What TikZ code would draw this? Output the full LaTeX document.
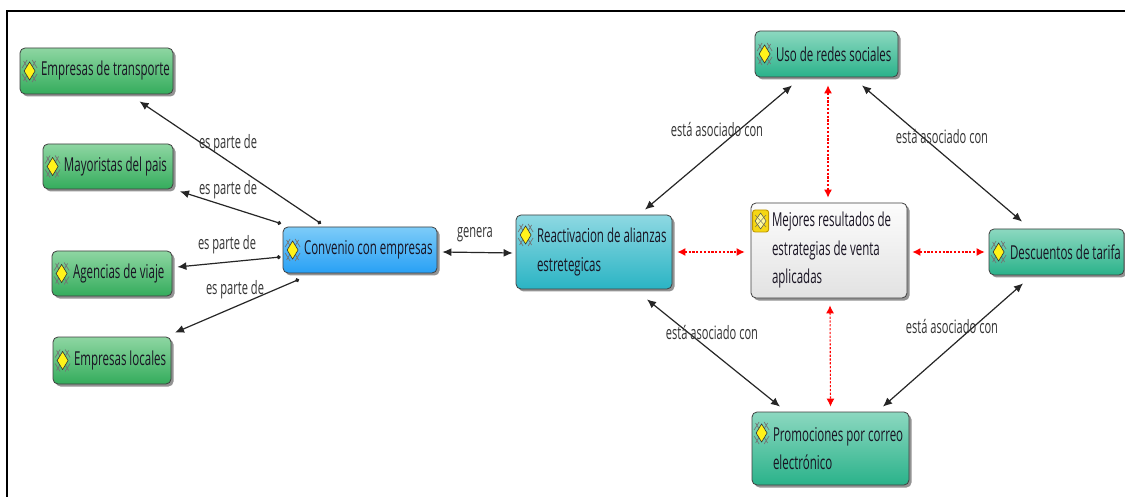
\documentclass[tikz,border=0pt]{standalone}
\usepackage{fontspec}
\setmainfont{Open Sans}[FakeStretch=0.6]
\usetikzlibrary{arrows.meta,calc,shadows}
\definecolor{gtop}{RGB}{142,214,162}
\definecolor{gbot}{RGB}{52,172,92}
\definecolor{ttop}{RGB}{140,216,192}
\definecolor{tbot}{RGB}{42,178,138}
\definecolor{btop}{RGB}{125,204,248}
\definecolor{bbot}{RGB}{40,160,245}
\definecolor{ctop}{RGB}{142,216,226}
\definecolor{cbot}{RGB}{42,180,196}
\definecolor{wtop}{RGB}{252,252,252}
\definecolor{wbot}{RGB}{226,226,226}
\definecolor{txt}{RGB}{25,20,35}
\newcommand\icl[1]{\mbox{\spaceskip=0pt\xspaceskip=0pt\hspace*{16pt}#1}}
\tikzset{
  box/.style={draw=black!75, line width=0.8pt, rounded corners=5pt,
    inner xsep=5pt, inner ysep=2pt, align=left, text=txt,
    font=\fontsize{19.2}{28.5}\selectfont,
    drop shadow={shadow xshift=2.5pt, shadow yshift=-2.5pt, opacity=0.6, fill=black!70}},
  gbox/.style={box, top color=gtop, bottom color=gbot},
  tbox/.style={box, top color=ttop, bottom color=tbot},
  bbox/.style={box, top color=btop, bottom color=bbot},
  cbox/.style={box, top color=ctop, bottom color=cbot},
  wbox/.style={box, top color=wtop, bottom color=wbot},
  lab/.style={font=\fontsize{18.5}{18.5}\selectfont, text=black!80, inner sep=1pt},
  link/.style={draw=black!85, line width=1.2pt, {Latex[length=9pt,width=8pt]}-{Latex[length=9pt,width=8pt]}},
  part/.style={draw=black!85, line width=1.2pt, {Circle[length=4pt]}-{Latex[length=9pt,width=8pt]}},
  redlink/.style={draw=red, line width=1.1pt, dash pattern=on 2.2pt off 1.6pt,
    {Latex[length=8pt,width=8pt]}-{Latex[length=8pt,width=8pt]}},
  ico/.pic={
    \draw[black!55, line width=0.7pt] (-6,-10)--(6,10) (6,-10)--(-6,10)
      (-7.5,-3)--(-2.5,-11) (7.5,-3)--(2.5,-11) (-7.5,3)--(-2.5,11) (7.5,3)--(2.5,11);
    \draw[black!80, line width=0.6pt, fill=yellow!90!white] (0,-9)--(5.5,0)--(0,9)--(-5.5,0)--cycle;
  },
  icob/.pic={
    \draw[rounded corners=2.5pt, draw={rgb,255:red,190;green,150;blue,0}, line width=0.9pt,
      fill={rgb,255:red,245;green,215;blue,20}] (-8,-11) rectangle (8,11);
    \draw[black!70, line width=0.5pt, fill=yellow!40!white] (0,-8)--(5.5,0)--(0,8)--(-5.5,0)--cycle;
    \draw[black!60, line width=0.4pt] (-5.5,-6)--(5.5,6) (5.5,-6)--(-5.5,6);
  }
}
\begin{document}
\begin{tikzpicture}[x=1pt,y=-1pt]
\useasboundingbox (0,0) rectangle (1125,497);
\fill[white] (0,0) rectangle (1125,497);
\draw[line width=2pt] (7,497) -- (7,11) -- (1125,11);

% nodes
\node[gbox, minimum width=153pt, minimum height=46pt, text width=143pt] (transp) at (96.5,71) {\icl{Empresas de transporte}};
\node[gbox, minimum width=130pt, minimum height=45pt, text width=120pt] (mayor) at (108,166.5) {\icl{Mayoristas del pais}};
\node[gbox, minimum width=120pt, minimum height=45pt, text width=110pt] (agen) at (112,273.5) {\icl{Agencias de viaje}};
\node[gbox, minimum width=118pt, minimum height=47pt, text width=108pt] (local) at (112,360.5) {\icl{Empresas locales}};
\node[bbox, minimum width=154pt, minimum height=46pt, text width=144pt] (conv) at (360,250) {\icl{Convenio con empresas}};
\node[cbox, minimum width=156pt, minimum height=74pt, text width=146pt] (react) at (594,252) {\icl{Reactivacion de alianzas}\\\icl{estretegicas}};
\node[wbox, minimum width=156pt, minimum height=95pt, text width=146pt] (mej) at (829,250.5) {\icl{Mejores resultados de}\\\icl{estrategias de venta}\\\icl{aplicadas}};
\node[tbox, minimum width=143pt, minimum height=46pt, text width=133pt] (uso) at (826.5,54) {\icl{Uso de redes sociales}};
\node[tbox, minimum width=135pt, minimum height=46pt, text width=125pt] (desc) at (1056.5,252) {\icl{Descuentos de tarifa}};
\node[tbox, minimum width=157pt, minimum height=73pt, text width=147pt] (promo) at (830.5,448.5) {\icl{Promociones por correo}\\\icl{electrónico}};

% icons
\pic at ($(transp.west)+(10,0)$) {ico};
\pic at ($(mayor.west)+(10,0)$) {ico};
\pic at ($(agen.west)+(10,0)$) {ico};
\pic at ($(local.west)+(10,0)$) {ico};
\pic at ($(conv.west)+(10,0)$) {ico};
\pic at ($(react.west)+(10,-17)$) {ico};
\pic at ($(uso.west)+(10,0)$) {ico};
\pic at ($(desc.west)+(10,0)$) {ico};
\pic at ($(promo.west)+(10,-15.5)$) {ico};
\pic at ($(mej.west)+(10,-29.5)$) {icob};

% es parte de
\draw[part] ($(conv.north)+(-39,-3)$) -- ($(transp.south)+(43,7)$);
\draw[part] ($(conv.north)+(-79,-3)$) -- ($(mayor.south)+(72,2)$);
\draw[part] ($(conv.west)+(-2,7)$) -- ($(agen.east)+(5,-6.5)$);
\draw[part] ($(conv.south)+(-61,6)$) -- ($(local.north)+(63,-4)$);
\node[lab] (l1) at (228,144) {es parte de};
\node[lab] (l2) at (228,190) {es parte de};
\node[lab] (l3) at (227,245) {es parte de};
\node[lab] (l4) at (235,290) {es parte de};

% genera
\draw[link] ($(conv.east)+(5,2)$) -- ($(react.west)+(-3,1)$);
\node[lab] (lg) at (475,235) {genera};

% está asociado con
\draw[link] ($(react.north)+(51,-5)$) -- ($(uso.south)+(-34.5,8)$);
\draw[link] ($(uso.south)+(35.5,8)$) -- ($(desc.north)+(-34.5,-7)$);
\draw[link] ($(react.south)+(53,10)$) -- ($(promo.north)+(-50.5,-5)$);
\draw[link] ($(desc.south)+(-33.5,8)$) -- ($(promo.north)+(52.5,-5)$);
\node[lab] (a1) at (717,130) {está asociado con};
\node[lab] (a2) at (942,137) {está asociado con};
\node[lab] (a3) at (712,333) {está asociado con};
\node[lab] (a4) at (952,327) {está asociado con};

% red dashed
\draw[redlink] ($(uso.south)+(1.5,8)$) -- ($(mej.north)+(-1,-5)$);
\draw[redlink] ($(mej.south)+(1,7)$) -- ($(promo.north)+(0,-5)$);
\draw[redlink] ($(react.east)+(5,0)$) -- ($(mej.west)+(-6,1.5)$);
\draw[redlink] ($(mej.east)+(5,1.5)$) -- ($(desc.west)+(-4,0)$);
\end{tikzpicture}
\end{document}
